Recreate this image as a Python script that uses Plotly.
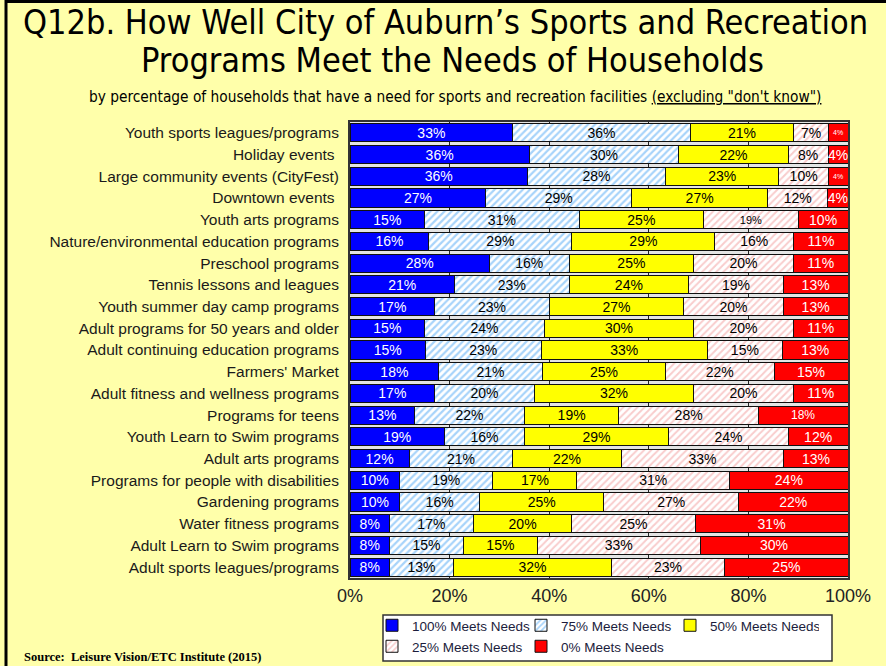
import plotly.graph_objects as go

categories = [
    "Youth sports leagues/programs",
    "Holiday events ",
    "Large community events (CityFest)",
    "Downtown events ",
    "Youth arts programs",
    "Nature/environmental education programs",
    "Preschool programs",
    "Tennis lessons and leagues",
    "Youth summer day camp programs",
    "Adult programs for 50 years and older",
    "Adult continuing education programs",
    "Farmers' Market",
    "Adult fitness and wellness programs",
    "Programs for teens",
    "Youth Learn to Swim programs",
    "Adult arts programs",
    "Programs for people with disabilities",
    "Gardening programs",
    "Water fitness programs",
    "Adult Learn to Swim programs",
    "Adult sports leagues/programs",
]

meets_100 = [33, 36, 36, 27, 15, 16, 28, 21, 17, 15, 15, 18, 17, 13, 19, 12, 10, 10, 8, 8, 8]
meets_75 = [36, 30, 28, 29, 31, 29, 16, 23, 23, 24, 23, 21, 20, 22, 16, 21, 19, 16, 17, 15, 13]
meets_50 = [21, 22, 23, 27, 25, 29, 25, 24, 27, 30, 33, 25, 32, 19, 29, 22, 17, 25, 20, 15, 32]
meets_25 = [7, 8, 10, 12, 19, 16, 20, 19, 20, 20, 15, 22, 20, 28, 24, 33, 31, 27, 25, 33, 23]
meets_0 = [4, 4, 4, 4, 10, 11, 11, 13, 13, 11, 13, 15, 11, 18, 12, 13, 24, 22, 31, 30, 25]

series_names = ["100% Meets Needs", "75% Meets Needs", "50% Meets Needs",
                "25% Meets Needs", "0% Meets Needs"]
series_values = [meets_100, meets_75, meets_50, meets_25, meets_0]

# label font sizes (a few labels are rendered smaller in the original)
label_sizes = [[14] * 21 for _ in range(5)]
label_sizes[4][0] = 7
label_sizes[4][2] = 7
label_sizes[3][4] = 11
label_sizes[4][13] = 12

BG = "#FFFFAA"
styles = [
    dict(color="#0000FF", pattern=None, text="white"),
    dict(color="white", pattern=dict(shape="/", fgcolor="#4FA8F5", bgcolor="white", size=5, solidity=0.45), text="black"),
    dict(color="#FFFF00", pattern=None, text="black"),
    dict(color="white", pattern=dict(shape="/", fgcolor="#F29A9A", bgcolor="white", size=5, solidity=0.4), text="black"),
    dict(color="#FF0000", pattern=None, text="white"),
]
legend_ids = ["legend", "legend", "legend", "legend2", "legend2"]

fig = go.Figure()
for name, vals, st, lg, sz in zip(series_names, series_values, styles, legend_ids, label_sizes):
    marker = dict(color=st["color"], line=dict(color="#111111", width=1))
    if st["pattern"]:
        marker["pattern"] = st["pattern"]
    fig.add_trace(go.Bar(
        y=categories, x=vals, name=name, orientation="h",
        marker=marker,
        text=vals, texttemplate="%{text}%", textposition="inside",
        insidetextanchor="middle", textangle=0, constraintext="none",
        insidetextfont=dict(family="Liberation Sans, Arial, sans-serif", size=sz,
                            color=st["text"]),
        legend=lg, hoverinfo="skip",
    ))

W, H = 886, 666
L, R, T, B = 350, 38, 122, 88
pw, ph = W - L - R, H - T - B

def px_x(x):
    return (x - L) / pw

def px_y(y):
    return 1 - (y - T) / ph

TITLE_FONT = "Liberation Sans Narrow, Arial Narrow, DejaVu Sans Condensed, sans-serif"

fig.update_layout(
    width=W, height=H,
    margin=dict(l=L, r=R, t=T, b=B, autoexpand=False),
    paper_bgcolor=BG, plot_bgcolor="#E4E4E4",
    barmode="stack", barnorm="percent", bargap=0.16,
    font=dict(family="Liberation Sans, Arial, sans-serif", color="#1a1a1a"),
    showlegend=True,
    legend=dict(orientation="h", x=px_x(372), y=px_y(610), xanchor="left", yanchor="top",
                bgcolor="rgba(0,0,0,0)", borderwidth=0,
                font=dict(size=13.5, color="#1c1c3c"), entrywidth=104, entrywidthmode="pixels",
                itemwidth=30, traceorder="normal"),
    legend2=dict(orientation="h", x=px_x(372), y=px_y(631), xanchor="left", yanchor="top",
                 bgcolor="rgba(0,0,0,0)", borderwidth=0,
                 font=dict(size=13.5, color="#1c1c3c"), entrywidth=104, entrywidthmode="pixels",
                 itemwidth=30, traceorder="normal"),
    xaxis=dict(range=[0, 100], tickvals=[0, 20, 40, 60, 80, 100],
               ticktext=["0%", "20%", "40%", "60%", "80%", "100%"],
               showgrid=True, gridcolor="#222222", gridwidth=1,
               showline=True, mirror=True, linecolor="#333333", linewidth=2,
               ticks="", tickfont=dict(size=18, color="#222222"), zeroline=False,
               automargin=False, fixedrange=True),
    yaxis=dict(autorange="reversed", showline=True, mirror=True, linecolor="#333333",
               linewidth=2, ticks="", ticklabelstandoff=6, automargin=False,
               tickfont=dict(size=15.5, color="#1a1a1a"), fixedrange=True),
    annotations=[
        dict(text="Q12b. How Well City of Auburn’s Sports and Recreation",
             xref="paper", yref="paper", x=px_x(445), y=px_y(22), xanchor="center", yanchor="middle",
             showarrow=False,
             font=dict(family=TITLE_FONT, size=34, color="#000000")),
        dict(text="Programs Meet the Needs of Households",
             xref="paper", yref="paper", x=px_x(452), y=px_y(60), xanchor="center", yanchor="middle",
             showarrow=False,
             font=dict(family=TITLE_FONT, size=34, color="#000000")),
        dict(text="by percentage of households that have a need for sports and recreation facilities <u>(excluding \"don't know\")</u>",
             xref="paper", yref="paper", x=px_x(455), y=px_y(97), xanchor="center", yanchor="middle",
             showarrow=False,
             font=dict(family=TITLE_FONT, size=15.3, color="#000000")),
        dict(text="<b>Source:  Leisure Vision/ETC Institute (2015)</b>",
             xref="paper", yref="paper", x=px_x(22), y=px_y(657), xanchor="left", yanchor="middle",
             showarrow=False,
             font=dict(family="Liberation Serif, Times New Roman, serif", size=12.5, color="#000000")),
    ],
    shapes=[
        dict(type="rect", xref="paper", yref="paper", x0=px_x(383), x1=px_x(832),
             y0=px_y(615), y1=px_y(661), line=dict(color="#333333", width=1.5),
             fillcolor="white", layer="below"),
        dict(type="line", xref="paper", yref="paper", x0=px_x(6), x1=px_x(6),
             y0=px_y(0), y1=px_y(670), line=dict(color="#000000", width=3)),
        dict(type="line", xref="paper", yref="paper", x0=px_x(6), x1=px_x(890),
             y0=px_y(1.5), y1=px_y(1.5), line=dict(color="#000000", width=3)),
    ],
)

fig.write_html("out.html", config={"displayModeBar": False},
               post_script="document.body.style.margin='0px';document.body.style.overflow='hidden';")
